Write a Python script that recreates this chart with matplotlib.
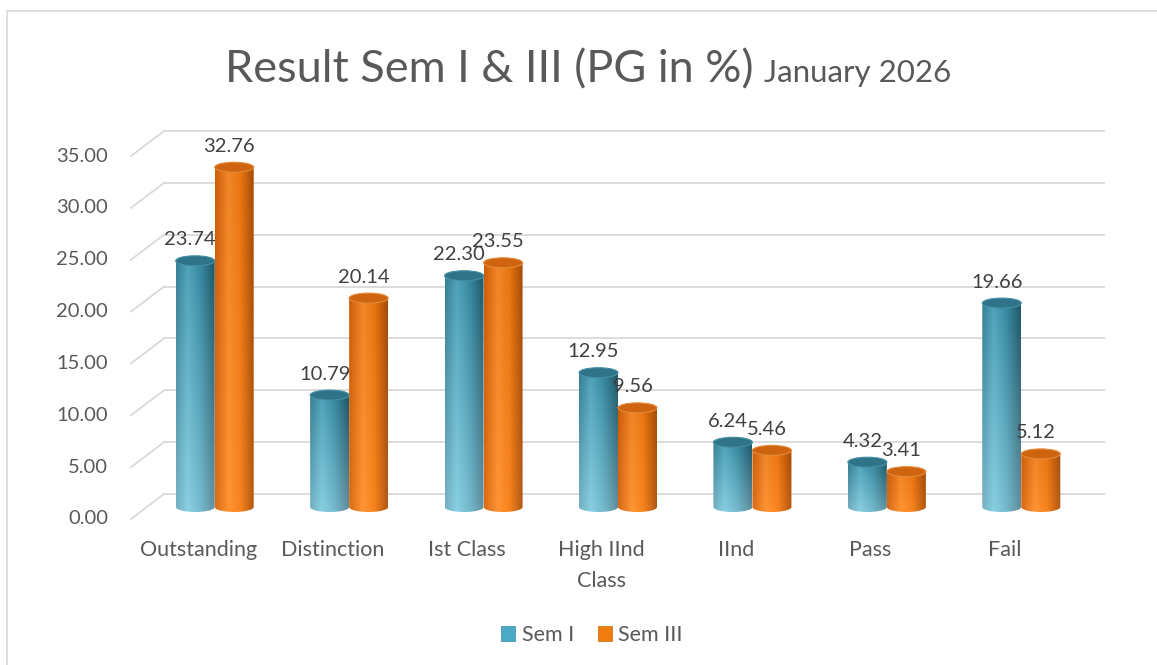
import matplotlib
matplotlib.use("Agg")
import numpy as np
import matplotlib.pyplot as plt
from matplotlib.patches import Ellipse, PathPatch, Rectangle, Patch
from matplotlib.path import Path
from matplotlib.colors import to_rgb

plt.rcParams['font.family'] = ['Lato', 'DejaVu Sans']

# ---------------- data ----------------
categories = ["Outstanding", "Distinction", "Ist Class", "High IInd\nClass", "IInd", "Pass", "Fail"]
sem1 = [23.74, 10.79, 22.30, 12.95, 6.24, 4.32, 19.66]
sem3 = [32.76, 20.14, 23.55, 9.56, 5.46, 3.41, 5.12]
series_names = ["Sem I", "Sem III"]
yticks = [0, 5, 10, 15, 20, 25, 30, 35]
title_main = "Result Sem I & III (PG in %)"
title_sub = "January 2026"

# ---------------- layout ----------------
W, H = 1157, 665
fig = plt.figure(figsize=(W / 100, H / 100), dpi=100)
fig.patch.set_facecolor("white")

ax = fig.add_axes([131 / W, 146 / H, 941 / W, 363 / H])
XMIN, XMAX, YMIN, YMAX = -0.5, 6.5, 0, 35
pxx = 941 / (XMAX - XMIN)
pxy = 363 / (YMAX - YMIN)
dx_back, dy_back = 33 / pxx, 25 / pxy
dx_mid, dy_mid = 16.5 / pxx, 12.0 / pxy
hw = 19.5 / pxx          # half width of cylinder
eh = 5.0 / pxy           # half height of ellipse
grid_c = "#d9d9d9"
text_c = "#595959"
lab_c = "#404040"
FS = 14.5
FS_CAT = 15.5

# back wall gridlines + side diagonals
for v in yticks:
    ax.plot([XMIN + dx_back, XMAX + dx_back], [v + dy_back, v + dy_back],
            color=grid_c, lw=1.3, clip_on=False, zorder=1, solid_capstyle='butt')
    ax.plot([XMIN, XMIN + dx_back], [v, v + dy_back],
            color=grid_c, lw=1.3, clip_on=False, zorder=1)
    ax.annotate(f"{v:.2f}", xy=(XMIN, v), xytext=(-23, 0), textcoords="offset pixels",
                ha="right", va="center", fontsize=FS, color=text_c, annotation_clip=False)


def make_img(stops, top_dark, bottom_light, n=64):
    xs = np.linspace(0, 1, n)
    pos = [s[0] for s in stops]
    cols = np.array([to_rgb(s[1]) for s in stops])
    prof = np.stack([np.interp(xs, pos, cols[:, k]) for k in range(3)], axis=1)
    ts = np.linspace(0, 1, n)[:, None, None]  # 0 bottom, 1 top
    light = prof[None] * (1 - bottom_light) + bottom_light
    dark = prof[None] * (1 - top_dark)
    img = light * (1 - ts) + dark * ts
    return np.clip(img, 0, 1)


blue_img = make_img([(0, "#3f93ab"), (0.3, "#5cbdd8"), (0.62, "#40a0bb"), (1, "#236478")], 0.14, 0.28)
orange_img = make_img([(0, "#d8620a"), (0.35, "#ff8f2a"), (0.65, "#f77d12"), (1, "#b05006")], 0.06, 0.05)
series = [
    (sem1, -hw, blue_img, "#2f7389", "#4690a6"),
    (sem3, +hw, orange_img, "#cf6410", "#e58a3a"),
]


def draw_cylinder(xc, v, img, top_fc, top_ec, z):
    x0, x1 = xc - hw, xc + hw
    yb, yt = dy_mid, v + dy_mid
    th = np.linspace(np.pi, 2 * np.pi, 40)
    verts = [(x0, yt), (x0, yb)]
    verts += list(zip(xc + hw * np.cos(th), yb + eh * np.sin(th)))
    verts += [(x1, yb), (x1, yt), (x0, yt)]
    codes = [Path.MOVETO] + [Path.LINETO] * (len(verts) - 2) + [Path.CLOSEPOLY]
    body = PathPatch(Path(verts, codes), fc="none", ec="none", transform=ax.transData)
    ax.add_patch(body)
    im = ax.imshow(img, extent=[x0, x1, yb - eh, yt], origin="lower", aspect="auto",
                   interpolation="bilinear", zorder=z)
    im.set_clip_path(body)
    ax.add_patch(Ellipse((xc, yt), 2 * hw, 2 * eh, fc=top_fc, ec=top_ec, lw=0.8, zorder=z + 0.1))
    return yt


for i in range(len(categories)):
    for vals, off, img, tfc, tec in series:
        xc = i + dx_mid + off
        yt = draw_cylinder(xc, vals[i], img, tfc, tec, 3 + i * 0.01)
        ax.annotate(f"{vals[i]:.2f}", xy=(xc, yt), xytext=(-5, 21), textcoords="offset pixels",
                    ha="center", va="center", fontsize=FS, color=lab_c, zorder=10,
                    annotation_clip=False)
    ax.annotate(categories[i], xy=(i, 0), xytext=(0, -21), textcoords="offset pixels",
                ha="center", va="top", fontsize=FS_CAT, color=text_c, linespacing=1.7,
                multialignment="center", annotation_clip=False)

ax.set_xlim(XMIN, XMAX)
ax.set_ylim(YMIN, YMAX)
ax.axis("off")

# legend
handles = [Patch(fc="#4aa9c4", ec="#3a8ea6", lw=0.5), Patch(fc="#f07c10", ec="#d0680a", lw=0.5)]
leg = fig.legend(handles, series_names, loc="center", bbox_to_anchor=(592 / W, 1 - 635 / H),
                 ncol=2, frameon=False, handlelength=0.65, handleheight=0.65,
                 handletextpad=0.3, columnspacing=1.1, fontsize=FS_CAT)
for t in leg.get_texts():
    t.set_color(text_c)

# title (two sizes on one line)
t1 = fig.text(0, 1 - 82 / H, title_main, ha="left", va="baseline", fontsize=32.5,
              color=text_c)
t2 = fig.text(0, 1 - 82 / H, title_sub, ha="left", va="baseline", fontsize=22.5,
              color=text_c)
r = fig.canvas.get_renderer()
w1 = t1.get_window_extent(r).width
w2 = t2.get_window_extent(r).width
gap = 10
start = 588 - (w1 + gap + w2) / 2
t1.set_x(start / W)
t2.set_x((start + w1 + gap) / W)

# chart border
fig.add_artist(Rectangle((7 / W, -0.05), 1.2, 654 / H + 0.05, transform=fig.transFigure,
                         fill=False, ec="#d9d9d9", lw=1.2))

fig.savefig("out.png", dpi=100)
